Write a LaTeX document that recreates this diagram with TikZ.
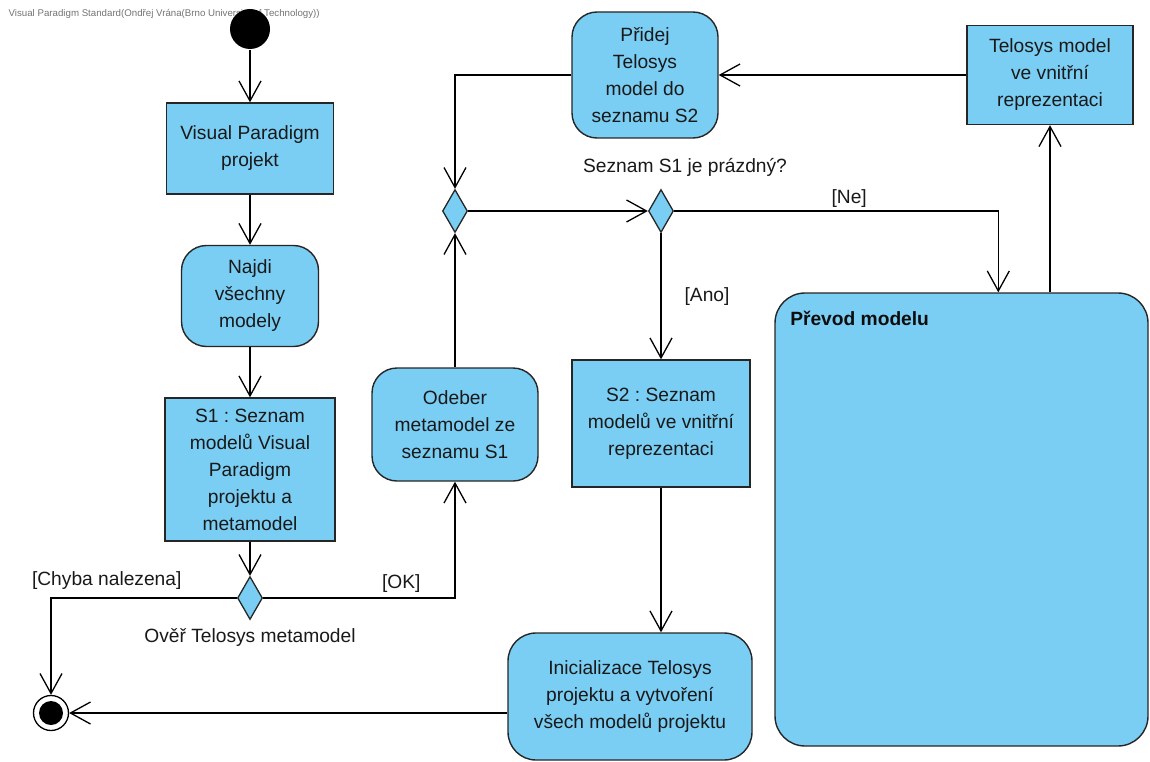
\documentclass[tikz,border=0pt]{standalone}
\usepackage{fontspec}
\setmainfont{Liberation Sans}
\usepackage{tikz}
\usetikzlibrary{calc, arrows.meta, shapes.geometric}
\definecolor{actblue}{RGB}{122,206,244}
\tikzstyle{obj}=[draw=black!85, fill=actblue, line width=1.4pt, align=center, inner sep=0pt, text=black!90]
\tikzstyle{act}=[obj, rounded corners=25pt]
\tikzstyle{choice}=[draw=black!85, fill=actblue, line width=1.3pt, diamond, inner sep=0pt, minimum width=25pt, minimum height=43pt]
\tikzstyle{guard}=[text=black!90, inner sep=3pt]

\begin{document}
\begin{tikzpicture}[x=1pt, y=-1pt, line width=1.3pt, >={Straight Barb[length=20pt, width=22pt]},
    font=\fontsize{19.2}{27}\selectfont\frenchspacing]
      \useasboundingbox (0,0) rectangle (1150,762);
      \node [anchor=west, text=black!55, font=\fontsize{9.7}{10}\selectfont, inner sep=0pt] (wm) at (8,14)
        {Visual Paradigm Standard(Ondřej Vrána(Brno University of Technology))};
      % left column
      \node [circle, fill=black, minimum size=40pt, inner sep=0pt] (start) at (250,29) {};
      \node [obj, minimum width=167pt, minimum height=91pt] (vp) at (250,148.5) {Visual Paradigm\\projekt};
      \node [act, minimum width=137pt, minimum height=101pt] (najdi) at (250,296) {Najdi\\všechny\\modely};
      \node [obj, minimum width=170pt, minimum height=143pt] (s1) at (250,469.5)
        {S1 : Seznam\\modelů Visual\\Paradigm\\projektu a\\metamodel};
      \node [choice, label={[guard, label distance=5pt]below:Ověř Telosys metamodel}] (over) at (250,598) {};
      \node [circle, draw, line width=1.3pt, minimum size=35pt, inner sep=0pt] (end) at (51,713) {};
      \node [circle, fill=black, minimum size=24pt, inner sep=0pt] at (end) {};
      % middle
      \node [act, minimum width=166pt, minimum height=113pt] (odeber) at (455,424.5) {Odeber\\metamodel ze\\seznamu S1};
      \node [choice] (merge) at (455,211) {};
      \node [act, minimum width=146pt, minimum height=126pt] (pridej) at (645,75) {Přidej\\Telosys\\model do\\seznamu S2};
      \node [choice, label={[guard, xshift=24pt, label distance=9pt]above:Seznam S1 je prázdný?}] (dec) at (661,211) {};
      \node [obj, minimum width=178pt, minimum height=127pt] (s2) at (661,423.5) {S2 : Seznam\\modelů ve vnitřní\\reprezentaci};
      \node [act, rounded corners=28pt, minimum width=244pt, minimum height=127pt] (init) at (630,696.5)
        {Inicializace Telosys\\projektu a vytvoření\\všech modelů projektu};
      % right
      \node [obj, minimum width=166pt, minimum height=99pt] (telosys) at (1050,75) {Telosys model\\ve vnitřní\\reprezentaci};
      \node [act, rounded corners=30pt, minimum width=373pt, minimum height=453pt,
        label={[anchor=north west, xshift=12pt, yshift=-15pt, font=\fontsize{19.2}{27}\selectfont\bfseries, text=black!95]north west:Převod modelu}]
        (prevod) at (961.5,519.5) {};
      % flows
      \draw[->] (start) -- (vp);
      \draw[->] (vp) -- (najdi);
      \draw[->] (najdi) -- (s1);
      \draw[->] (s1) -- (over);
      \draw[->] (over.west) -| node[guard, above, pos=0.35, yshift=5pt] {[Chyba nalezena]} (end.north);
      \draw[->] (over.east) -| node[guard, above, pos=0.36, yshift=2pt] {[OK]} (odeber.south);
      \draw[->] (odeber) -- (merge);
      \draw[->] (pridej.west) -| (merge.north);
      \draw[->] (merge) -- (dec);
      \draw[->] (dec.east) -| node[guard, above, pos=0.27] {[Ne]} ([xshift=224pt]prevod.north west);
      \draw[->] (dec.south) -- node[guard, right, xshift=20pt] {[Ano]} (s2.north);
      \draw[->] (s2) -- (s2 |- init.north);
      \draw[->] (init.west |- end) -- (end);
      \draw[->] (telosys.south |- prevod.north) -- (telosys.south);
      \draw[->] (telosys) -- (pridej);
\end{tikzpicture}
\end{document}
